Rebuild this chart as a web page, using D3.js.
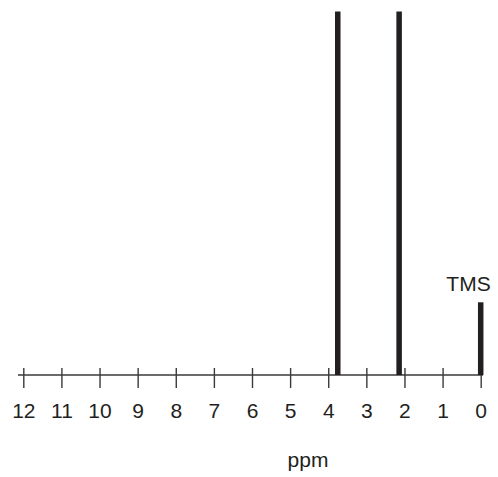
<!DOCTYPE html>
<html>
<head>
<meta charset="utf-8">
<script src="https://cdn.jsdelivr.net/npm/d3@7"></script>
<style>
  body { margin: 0; background: #fff; }
  svg { display: block; font-family: "Liberation Sans", Arial, sans-serif; }
  .axis text { font-size: 21px; fill: #231f20; }
  .axis line { stroke: #3a3a3a; stroke-width: 1.4px; }
</style>
</head>
<body>
<script>
// peak positions (ppm) and relative heights
const peakShift = [3.75, 2.14, 0];
const peakHeight = [1, 1, 0.2];
const peakLabel = ['', '', 'TMS'];
const tickValues = [12, 11, 10, 9, 8, 7, 6, 5, 4, 3, 2, 1, 0];
const axisTitle = 'ppm';

const width = 498, height = 477;
const axisY = 375;

const svg = d3.select('body').append('svg')
  .attr('width', width).attr('height', height);

const x = d3.scaleLinear().domain([12, 0]).range([23.3, 480.7]);
const y = d3.scaleLinear().domain([0, 1]).range([axisY, 11.5]);

// baseline
svg.append('line')
  .attr('x1', 18).attr('x2', 483)
  .attr('y1', axisY).attr('y2', axisY)
  .attr('stroke', '#3a3a3a').attr('stroke-width', 1.4);

const axis = svg.append('g')
  .attr('class', 'axis')
  .attr('transform', 'translate(0,' + axisY + ')')
  .call(d3.axisBottom(x).tickValues(tickValues).tickSize(13).tickSizeOuter(0).tickPadding(15));
axis.select('.domain').remove();
axis.selectAll('.tick line').attr('y1', -7);

// peaks
svg.selectAll('rect.peak')
  .data(peakShift)
  .join('rect')
  .attr('class', 'peak')
  .attr('x', d => x(d) - 2.75)
  .attr('width', 5.5)
  .attr('y', (d, i) => y(peakHeight[i]))
  .attr('height', (d, i) => axisY - y(peakHeight[i]))
  .attr('fill', '#231f20');

svg.selectAll('text.peak-label')
  .data(peakShift.filter((d, i) => peakLabel[i]))
  .join('text')
  .attr('class', 'peak-label')
  .attr('x', d => x(d) + 10)
  .attr('y', d => y(peakHeight[peakShift.indexOf(d)]) - 11)
  .attr('text-anchor', 'end')
  .attr('font-size', 21)
  .attr('fill', '#231f20')
  .text(d => peakLabel[peakShift.indexOf(d)]);

svg.append('text')
  .attr('x', 308).attr('y', 467)
  .attr('text-anchor', 'middle')
  .attr('font-size', 21)
  .attr('fill', '#231f20')
  .text(axisTitle);
</script>
</body>
</html>
